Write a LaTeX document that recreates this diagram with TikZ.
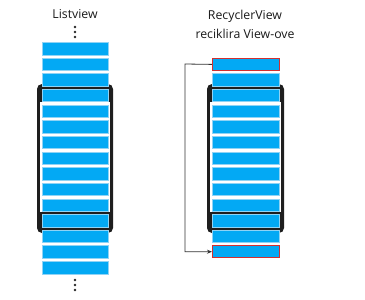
\documentclass[tikz,border=0pt]{standalone}
\usepackage{fontspec}
\setmainfont{Open Sans}
\usetikzlibrary{arrows.meta}
\definecolor{barblue}{HTML}{03A9F4}
\definecolor{barline}{HTML}{8FD3F5}
\definecolor{phone}{HTML}{1E1E1E}
\definecolor{redline}{HTML}{D32F2F}
\definecolor{arrowc}{HTML}{333333}
\tikzset{
  bar/.style={draw=barline, line width=0.4pt, fill=barblue, inner sep=0pt, minimum width=66pt, minimum height=12.5pt, anchor=north west},
  redbar/.style={bar, draw=redline, line width=1pt},
  phonebody/.style={fill=phone, rounded corners=5pt},
  screen/.style={fill=white},
  title/.style={font=\fontsize{12.3}{14}\selectfont, text=black!90, inner sep=0pt},
  dot/.style={circle, fill=black!85, inner sep=0pt, minimum size=2.6pt},
  conn/.style={draw=arrowc, line width=0.8pt}
}
\begin{document}
\begin{tikzpicture}[x=1pt,y=-1pt]
\useasboundingbox (0,0) rectangle (365,300);
% titles
\node[title] (t1) at (75,14) {Listview};
\node[title] (t2) at (245,16) {RecyclerView};
\node[title] (t3) at (245,34) {reciklira View-ove};
% phones
\fill[phonebody] (37,84) rectangle (113,233);
\fill[screen] (40,102) rectangle (110,212);
\fill[phonebody] (207,84) rectangle (284,233);
\fill[screen] (210,102) rectangle (281,212);
% left bars
\foreach \i in {0,...,14} {
  \node[bar] (l\i) at (42,{42+15.65*\i}) {};
}
% right bars
\foreach \i in {2,...,12} {
  \node[bar, minimum width=67pt] (r\i) at (212,{42+15.65*\i}) {};
}
\node[redbar, minimum width=67pt] (r1) at (212,{42+15.65}) {};
\node[redbar, minimum width=67pt] (r13) at (212,{42+15.65*13-0.5}) {};
% dots
\foreach \j/\y in {a/27,b/32,c/37,d/280,e/285,f/290} {
  \node[dot] (d\j) at (75,\y) {};
}
% connector
\coordinate (turn) at (185,64);
\draw[conn, -{Stealth[length=5pt,width=4pt]}] (r1.west) -- (turn) |- (r13.west);
\end{tikzpicture}
\end{document}
